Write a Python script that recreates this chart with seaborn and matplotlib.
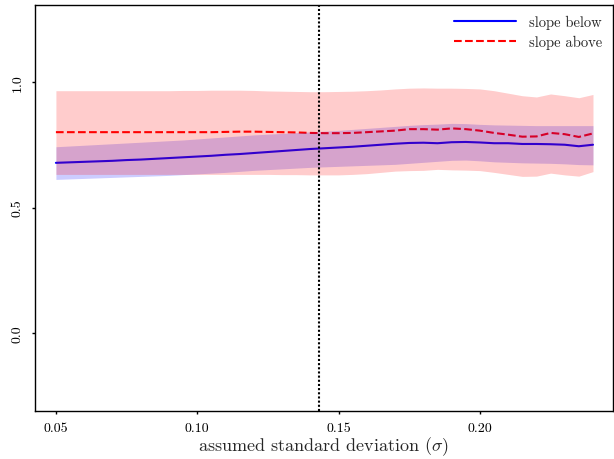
import numpy as np
import pandas as pd
import matplotlib
matplotlib.use("Agg")
import matplotlib.pyplot as plt
import seaborn as sns

sigma = [0.050, 0.055, 0.060, 0.065, 0.070, 0.075, 0.080, 0.085, 0.090, 0.095,
         0.100, 0.105, 0.110, 0.115, 0.120, 0.125, 0.130, 0.135, 0.140, 0.145,
         0.150, 0.155, 0.160, 0.165, 0.170, 0.175, 0.180, 0.185, 0.190, 0.195,
         0.200, 0.205, 0.210, 0.215, 0.220, 0.225, 0.230, 0.235, 0.240]

slope_below = [0.678, 0.680, 0.682, 0.684, 0.686, 0.689, 0.691, 0.694, 0.697, 0.700,
               0.703, 0.706, 0.710, 0.713, 0.717, 0.721, 0.725, 0.729, 0.733, 0.736,
               0.739, 0.742, 0.746, 0.750, 0.754, 0.757, 0.758, 0.756, 0.760, 0.761,
               0.759, 0.756, 0.756, 0.753, 0.753, 0.752, 0.750, 0.744, 0.750]
below_lo = [0.612, 0.614, 0.616, 0.618, 0.620, 0.622, 0.624, 0.626, 0.628, 0.631,
            0.634, 0.637, 0.640, 0.644, 0.648, 0.651, 0.654, 0.657, 0.660, 0.662,
            0.664, 0.666, 0.668, 0.670, 0.672, 0.676, 0.680, 0.684, 0.688, 0.689,
            0.686, 0.682, 0.680, 0.678, 0.677, 0.676, 0.674, 0.671, 0.670]
below_hi = [0.742, 0.745, 0.748, 0.751, 0.754, 0.757, 0.760, 0.763, 0.766, 0.769,
            0.773, 0.777, 0.781, 0.785, 0.789, 0.792, 0.795, 0.798, 0.801, 0.804,
            0.807, 0.811, 0.815, 0.819, 0.823, 0.827, 0.830, 0.832, 0.835, 0.834,
            0.831, 0.829, 0.828, 0.827, 0.826, 0.826, 0.826, 0.826, 0.826]

slope_above = [0.800, 0.800, 0.800, 0.800, 0.800, 0.800, 0.800, 0.800, 0.800, 0.800,
               0.800, 0.800, 0.801, 0.802, 0.802, 0.801, 0.800, 0.799, 0.797, 0.796,
               0.796, 0.797, 0.800, 0.803, 0.806, 0.812, 0.812, 0.810, 0.815, 0.812,
               0.806, 0.797, 0.790, 0.782, 0.783, 0.797, 0.792, 0.781, 0.795]
above_lo = [0.632, 0.632, 0.632, 0.632, 0.632, 0.632, 0.632, 0.632, 0.632, 0.632,
            0.632, 0.632, 0.632, 0.632, 0.632, 0.632, 0.631, 0.631, 0.630, 0.630,
            0.630, 0.632, 0.635, 0.640, 0.645, 0.647, 0.648, 0.652, 0.650, 0.649,
            0.647, 0.640, 0.632, 0.624, 0.625, 0.637, 0.630, 0.625, 0.643]
above_hi = [0.965, 0.965, 0.965, 0.965, 0.965, 0.965, 0.965, 0.965, 0.965, 0.966,
            0.966, 0.967, 0.967, 0.967, 0.966, 0.964, 0.963, 0.962, 0.961, 0.961,
            0.962, 0.963, 0.965, 0.968, 0.972, 0.975, 0.976, 0.975, 0.975, 0.974,
            0.972, 0.965, 0.955, 0.945, 0.940, 0.952, 0.945, 0.937, 0.950]

sigma_ref = 0.143

x_ticks = [0.05, 0.10, 0.15, 0.20]
x_ticklabels = ["0.05", "0.10", "0.15", "0.20"]
y_ticks = [0.0, 0.5, 1.0]
y_ticklabels = ["0.0", "0.5", "1.0"]

sns.set_style("ticks")
plt.rcParams["font.family"] = ["serif"]
plt.rcParams["font.serif"] = ["cmr10", "DejaVu Serif"]
plt.rcParams["mathtext.fontset"] = "cm"
plt.rcParams["axes.formatter.use_mathtext"] = True

df = pd.DataFrame({"sigma": sigma, "below": slope_below, "above": slope_above})

fig = plt.figure(figsize=(6.14, 4.6), dpi=100)
ax = fig.add_axes([0.057, 0.104, 0.941, 0.883])

sns.lineplot(data=df, x="sigma", y="below", color="blue", lw=1.5,
             label="slope below", ax=ax, zorder=2)
sns.lineplot(data=df, x="sigma", y="above", color="red", lw=1.5,
             linestyle="--", label="slope above", ax=ax, zorder=2)
ax.fill_between(sigma, below_lo, below_hi, color="blue", alpha=0.2, lw=0, zorder=3)
ax.fill_between(sigma, above_lo, above_hi, color="red", alpha=0.2, lw=0, zorder=4)
ax.axvline(sigma_ref, color="black", linestyle=(0, (1, 1)), lw=1.5, zorder=5)

ax.set_xlim(0.0426, 0.247)
ax.set_ylim(-0.31, 1.306)
ax.set_xticks(x_ticks)
ax.set_xticklabels(x_ticklabels, fontsize=10)
ax.set_yticks(y_ticks)
ax.set_yticklabels(y_ticklabels, fontsize=10, rotation=90, va="center")
ax.set_xlabel(r"assumed standard deviation ($\sigma$)", fontsize=13, labelpad=0)
ax.set_ylabel("")
ax.tick_params(axis="x", direction="out", length=2, width=1, colors="black", pad=6)
ax.tick_params(axis="y", direction="out", length=2, width=1, colors="black", pad=6)
for s in ax.spines.values():
    s.set_visible(True)
    s.set_color("black")
    s.set_linewidth(1.0)

ax.legend(loc="upper right", frameon=False, fontsize=10.5, handlelength=4.3,
          borderaxespad=0.3, labelspacing=0.35, handletextpad=0.9)

fig.savefig("out.png", dpi=100)
